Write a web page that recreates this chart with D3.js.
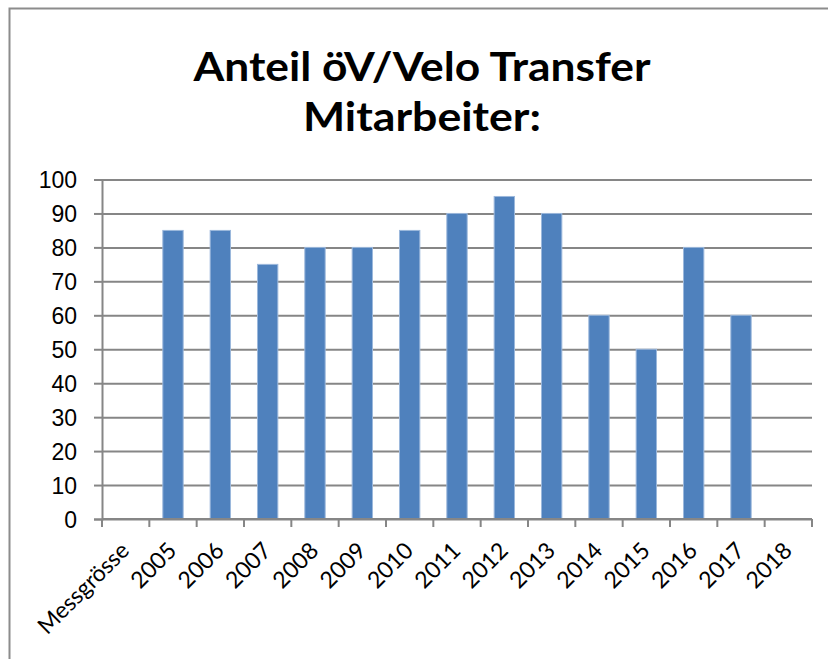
<!DOCTYPE html>
<html>
<head>
	<meta charset="utf-8">
	<title>Anteil öV/Velo Transfer Mitarbeiter</title>
	<script src="https://cdn.jsdelivr.net/npm/d3@7/dist/d3.min.js"></script>
	<style type="text/css">
	body { margin: 0; background: #fff; }
	svg { display: block; font-family: Lato, "Open Sans", sans-serif; }
	.axis_y text, .axis_x text { font-size: 23px; fill: #000; }
	</style>
</head>
<body>
	<svg></svg>
	<script>
	// categories and values (null = no bar)
	var categories = ["Messgrösse", "2005", "2006", "2007", "2008", "2009", "2010", "2011", "2012", "2013", "2014", "2015", "2016", "2017", "2018"];
	var anteil = [null, 85, 85, 75, 80, 80, 85, 90, 95, 90, 60, 50, 80, 60, null];
	var yTicks = [0, 10, 20, 30, 40, 50, 60, 70, 80, 90, 100];
	var titleLines = ["Anteil öV/Velo Transfer", "Mitarbeiter:"];
	var titleWidths = [457, 238];

	var W = 828, H = 659;
	var plot = {left: 102, right: 812, top: 179.5, bottom: 519};

	var svg = d3.select("svg").attr("width", W).attr("height", H);

	// outer frame
	svg.append("rect")
		.attr("x", 9.5).attr("y", 8.5)
		.attr("width", W).attr("height", H)
		.attr("fill", "none").attr("stroke", "#8c8c8c").attr("stroke-width", 2);

	var x = d3.scaleBand().domain(categories).range([plot.left, plot.right]).paddingInner(0.57).paddingOuter(0.285);
	var xb = d3.scaleBand().domain(categories).range([plot.left, plot.right]);
	var y = d3.scaleLinear().domain([0, 100]).range([plot.bottom, plot.top]);

	// grid lines + y axis
	var gy = svg.append("g")
		.attr("class", "axis_y")
		.attr("transform", "translate(" + plot.left + ",0)")
		.call(d3.axisLeft(y).tickValues(yTicks).tickSize(8).tickPadding(17));
	gy.select(".domain").attr("stroke", "#868686").attr("stroke-width", 2);
	gy.selectAll(".tick line").attr("stroke", "#868686").attr("stroke-width", 2);
	gy.selectAll(".tick").append("line")
		.attr("x1", 0).attr("x2", plot.right - plot.left)
		.attr("stroke", "#868686").attr("stroke-width", 2);
	gy.selectAll(".tick text").attr("dy", "0.36em");

	// bars
	var data = categories.map(function(c, i) { return {cat: c, val: anteil[i]}; })
		.filter(function(d) { return d.val !== null; });
	svg.append("g").selectAll("rect")
		.data(data)
		.enter()
		.append("rect")
		.attr("x", function(d) { return x(d.cat); })
		.attr("width", x.bandwidth())
		.attr("y", function(d) { return y(d.val); })
		.attr("height", function(d) { return y(0) - y(d.val); })
		.attr("fill", "#4f81bd")
		.attr("stroke", "#9cb8dc").attr("stroke-width", 1);

	// x axis: ticks at category boundaries
	var gx = svg.append("g")
		.attr("class", "axis_x")
		.attr("transform", "translate(0," + plot.bottom + ")");
	gx.append("line")
		.attr("x1", plot.left).attr("x2", plot.right)
		.attr("stroke", "#868686").attr("stroke-width", 2);
	gx.selectAll("line.tk")
		.data(categories.concat(["end"]))
		.enter()
		.append("line")
		.attr("class", "tk")
		.attr("x1", function(d, i) { return plot.left + i * xb.step(); })
		.attr("x2", function(d, i) { return plot.left + i * xb.step(); })
		.attr("y1", 0).attr("y2", 8)
		.attr("stroke", "#868686").attr("stroke-width", 2);
	gx.selectAll("text")
		.data(categories)
		.enter()
		.append("text")
		.attr("text-anchor", "end")
		.attr("transform", function(d) {
			return "translate(" + (xb(d) + xb.bandwidth() / 2 + 5) + ",33) rotate(-45)";
		})
		.text(function(d) { return d; });

	// title
	svg.selectAll("text.title")
		.data(titleLines)
		.enter()
		.append("text")
		.attr("class", "title")
		.attr("x", 422)
		.attr("y", function(d, i) { return 81 + i * 50; })
		.attr("text-anchor", "middle")
		.attr("font-size", "40px")
		.attr("font-weight", "bold")
		.attr("textLength", function(d, i) { return titleWidths[i]; })
		.attr("lengthAdjust", "spacingAndGlyphs")
		.text(function(d) { return d; });
	</script>
</body>
</html>
